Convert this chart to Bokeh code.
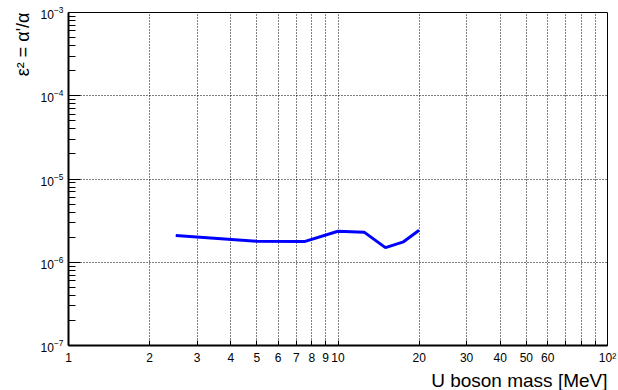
from bokeh.plotting import figure
from bokeh.models import Range1d, FixedTicker, LogTickFormatter, Title
from bokeh.embed import file_html
from bokeh.resources import INLINE

# data
mass = [2.5, 5.0, 7.5, 10.0, 12.5, 15.0, 17.5, 20.0]
eps2 = [2.09e-6, 1.79e-6, 1.77e-6, 2.36e-6, 2.30e-6, 1.50e-6, 1.76e-6, 2.42e-6]

x_ticks = [1, 2, 3, 4, 5, 6, 7, 8, 9, 10, 20, 30, 40, 50, 60, 70, 80, 90, 100]
x_labels = {1: "1", 2: "2", 3: "3", 4: "4", 5: "5", 6: "6", 7: "7", 8: "8", 9: "9",
            10: "10", 20: "20", 30: "30", 40: "40", 50: "50", 60: "60",
            70: "", 80: "", 90: "", 100: "10²"}
y_ticks = [1e-7, 1e-6, 1e-5, 1e-4, 1e-3]
y_minor = [k * d for d in [1e-7, 1e-6, 1e-5, 1e-4] for k in range(2, 10)]
x_title = "U boson mass [MeV]"
y_title = "ε² = α'/α"

FONT = "Liberation Sans"

p = figure(width=618, height=390, x_axis_type="log", y_axis_type="log",
           x_range=Range1d(1, 100), y_range=Range1d(1e-7, 1e-3),
           output_backend="svg", toolbar_location=None,
           min_border_left=68, min_border_right=11, min_border_top=12, min_border_bottom=10)

p.background_fill_color = "white"
p.border_fill_color = "white"
p.outline_line_color = "black"
p.outline_line_width = 1

p.line(mass, eps2, line_color="#0000ff", line_width=3)

xa = p.xaxis[0]
xa.ticker = FixedTicker(ticks=x_ticks, minor_ticks=[])
xa.major_label_overrides = x_labels
xa.major_tick_in = 5
xa.major_tick_out = 0
xa.minor_tick_in = 0
xa.minor_tick_out = 0
xa.axis_line_color = "black"
xa.axis_line_width = 2
xa.major_tick_line_color = "black"
xa.major_label_text_font = FONT
xa.major_label_text_font_size = "12px"
xa.major_label_text_color = "black"
xa.major_label_standoff = 5

ya = p.yaxis[0]
ya.ticker = FixedTicker(ticks=y_ticks, minor_ticks=y_minor)
ya.formatter = LogTickFormatter()
ya.major_tick_in = 12
ya.major_tick_out = 0
ya.minor_tick_in = 7
ya.minor_tick_out = 0
ya.axis_line_color = "black"
ya.axis_line_width = 2
ya.major_tick_line_color = "black"
ya.minor_tick_line_color = "black"
ya.major_label_text_font = FONT
ya.major_label_text_font_size = "12px"
ya.major_label_text_color = "black"
ya.major_label_standoff = 5

p.xgrid.ticker = FixedTicker(ticks=x_ticks)
p.ygrid.ticker = FixedTicker(ticks=y_ticks)
for g in (p.xgrid, p.ygrid):
    g.grid_line_color = "black"
    g.grid_line_dash = "1 2"
    g.grid_line_width = 1
    g.grid_line_alpha = 1.0

p.add_layout(Title(text=x_title, align="right", text_font=FONT,
                   text_font_size="19px", text_font_style="normal",
                   text_line_height=0.8,
                   text_color="black", standoff=0), "below")
p.add_layout(Title(text=y_title, align="right", vertical_align="bottom", text_font=FONT,
                   text_font_size="18px", text_font_style="normal",
                   text_color="black", standoff=10), "left")

open("out.html", "w").write(file_html(p, INLINE))
